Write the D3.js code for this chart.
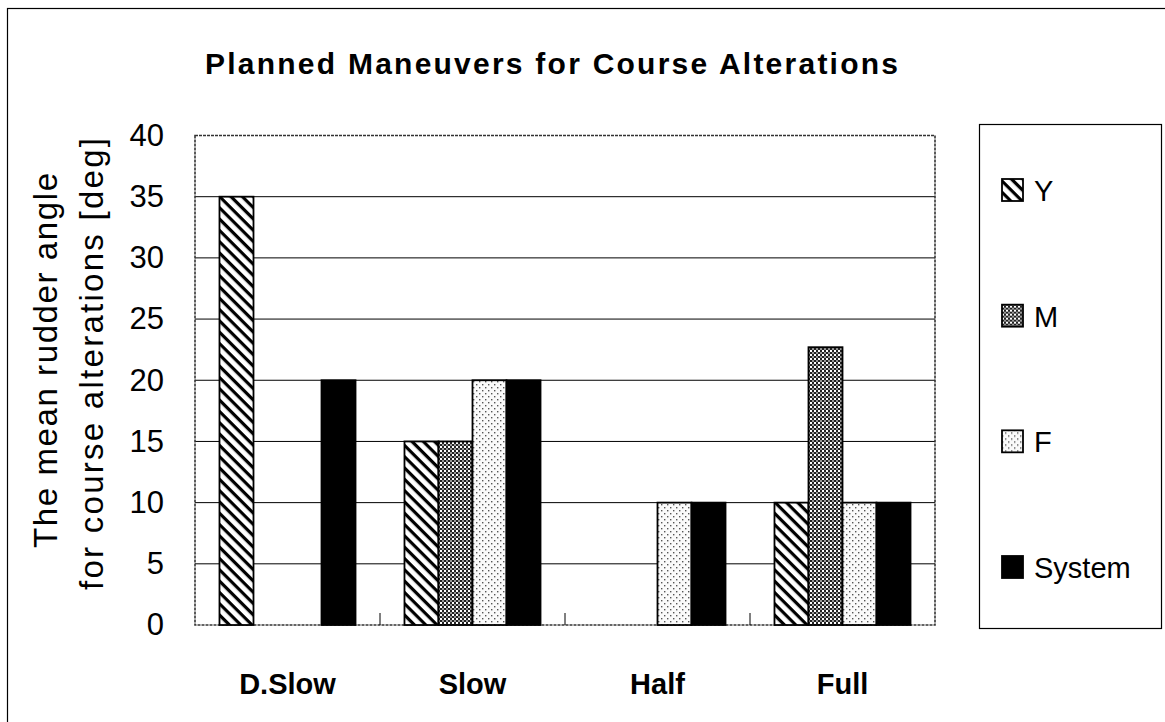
<!DOCTYPE html>
<html>
<head>
<meta charset="utf-8">
<script src="https://cdn.jsdelivr.net/npm/d3@7"></script>
<style>
  html, body { margin: 0; padding: 0; background: #fff; }
  svg { display: block; font-family: "Liberation Sans", Arial, sans-serif; }
</style>
</head>
<body>
<svg id="chart" width="1165" height="722"></svg>
<script>
// Chart data
const categories = ["D.Slow", "Slow", "Half", "Full"];
const seriesNames = ["Y", "M", "F", "System"];
const valuesY = [35, 15, 0, 10];
const valuesM = [0, 15, 0, 22.7];
const valuesF = [0, 20, 10, 10];
const valuesSystem = [20, 20, 10, 10];
const yTicks = [0, 5, 10, 15, 20, 25, 30, 35, 40];

const seriesValues = [valuesY, valuesM, valuesF, valuesSystem];

const svg = d3.select("#chart");
const W = 1165, H = 722;
const FONT = "Liberation Sans, Arial, sans-serif";

// Fill patterns
const defs = svg.append("defs");

const hatch = defs.append("pattern")
  .attr("id", "pat-Y").attr("patternUnits", "userSpaceOnUse")
  .attr("width", 8).attr("height", 8)
  .attr("patternTransform", "rotate(45)");
hatch.append("rect").attr("width", 8).attr("height", 8).attr("fill", "#fff");
hatch.append("rect").attr("x", 0).attr("y", 0).attr("width", 8).attr("height", 3.2).attr("fill", "#000");

const checker = defs.append("pattern")
  .attr("id", "pat-M").attr("patternUnits", "userSpaceOnUse")
  .attr("width", 4).attr("height", 4);
checker.append("rect").attr("width", 4).attr("height", 4).attr("fill", "#fff");
checker.append("rect").attr("x", 0).attr("y", 0).attr("width", 2).attr("height", 2).attr("fill", "#222");
checker.append("rect").attr("x", 2).attr("y", 2).attr("width", 2).attr("height", 2).attr("fill", "#222");
checker.append("rect").attr("x", 2).attr("y", 0).attr("width", 2).attr("height", 2).attr("fill", "#999");

const dots = defs.append("pattern")
  .attr("id", "pat-F").attr("patternUnits", "userSpaceOnUse")
  .attr("width", 6).attr("height", 6);
dots.append("rect").attr("width", 6).attr("height", 6).attr("fill", "#fafafa");
dots.append("rect").attr("x", 0).attr("y", 0).attr("width", 1.4).attr("height", 1.4).attr("fill", "#555");
dots.append("rect").attr("x", 3).attr("y", 3).attr("width", 1.4).attr("height", 1.4).attr("fill", "#555");

const fills = ["url(#pat-Y)", "url(#pat-M)", "url(#pat-F)", "#000"];

// Outer frame
svg.append("rect")
  .attr("x", 7.5).attr("y", 8.5).attr("width", W + 10).attr("height", H + 10)
  .attr("fill", "none").attr("stroke", "#000").attr("stroke-width", 1.2);

// Title
svg.append("text")
  .attr("x", 205).attr("y", 74)
  .attr("font-weight", "bold").attr("font-size", 30)
  .attr("font-family", FONT)
  .attr("textLength", 693).attr("lengthAdjust", "spacing")
  .text("Planned Maneuvers for Course Alterations");

// Plot area
const plot = { left: 195, top: 135.5, right: 935, bottom: 625 };

const x0 = d3.scaleBand().domain(categories)
  .range([plot.left, plot.right]).paddingInner(0).paddingOuter(0);
const x1 = d3.scaleBand().domain(seriesNames)
  .range([0, x0.bandwidth()]).paddingInner(0).paddingOuter(0.72);
const y = d3.scaleLinear().domain([0, 40]).range([plot.bottom, plot.top]);

// Gridlines
svg.append("g").selectAll("line")
  .data(yTicks.filter(t => t > 0 && t < 40))
  .join("line")
  .attr("x1", plot.left).attr("x2", plot.right)
  .attr("y1", d => y(d)).attr("y2", d => y(d))
  .attr("stroke", "#000").attr("stroke-width", 1);

// Plot border (dotted)
svg.append("rect")
  .attr("x", plot.left).attr("y", plot.top)
  .attr("width", plot.right - plot.left).attr("height", plot.bottom - plot.top)
  .attr("fill", "none").attr("stroke", "#333").attr("stroke-width", 1.6)
  .attr("stroke-dasharray", "3,1");

// Bars
const groups = svg.append("g").selectAll("g")
  .data(categories)
  .join("g")
  .attr("transform", d => `translate(${x0(d)},0)`);

groups.selectAll("rect")
  .data((c, ci) => seriesNames.map((s, si) => ({ s, si, v: seriesValues[si][ci] })).filter(d => d.v > 0))
  .join("rect")
  .attr("x", d => x1(d.s))
  .attr("y", d => y(d.v))
  .attr("width", x1.bandwidth())
  .attr("height", d => y(0) - y(d.v))
  .attr("fill", d => fills[d.si])
  .attr("stroke", "#000").attr("stroke-width", 1.8);

// Y axis
const yAxis = d3.axisLeft(y).tickValues(yTicks).tickSize(0).tickPadding(31);
const yg = svg.append("g").attr("transform", `translate(${plot.left},0)`).call(yAxis);
yg.select(".domain").remove();
yg.selectAll("text").attr("font-size", 31).attr("font-family", FONT).attr("fill", "#000");

// X axis: category labels and separators
const xAxis = d3.axisBottom(x0).tickSize(0).tickPadding(48);
const xg = svg.append("g").attr("transform", `translate(0,${plot.bottom})`).call(xAxis);
xg.select(".domain").remove();
xg.selectAll("text").attr("font-size", 29).attr("font-weight", "bold")
  .attr("font-family", FONT).attr("fill", "#000");

svg.append("g").selectAll("line")
  .data(categories.slice(1))
  .join("line")
  .attr("x1", d => x0(d)).attr("x2", d => x0(d))
  .attr("y1", plot.bottom - 12).attr("y2", plot.bottom)
  .attr("stroke", "#000").attr("stroke-width", 1);

// Y axis title (two lines)
const yTitleLines = [
  { text: "The mean rudder angle", x: 57, y: 548, len: 375 },
  { text: "for course alterations [deg]", x: 103, y: 590, len: 452 }
];
svg.append("g").selectAll("text").data(yTitleLines).join("text")
  .attr("transform", d => `translate(${d.x},${d.y}) rotate(-90)`)
  .attr("font-size", 33).attr("font-family", FONT)
  .attr("textLength", d => d.len).attr("lengthAdjust", "spacing")
  .text(d => d.text);

// Legend
const legend = { x: 979, y: 124, w: 182, h: 504 };
svg.append("rect")
  .attr("x", legend.x + 0.5).attr("y", legend.y + 0.5).attr("width", legend.w).attr("height", legend.h)
  .attr("fill", "#fff").attr("stroke", "#000").attr("stroke-width", 1.2);

const legendY = d3.scalePoint().domain(seriesNames).range([190, 567]);
const li = svg.append("g").selectAll("g").data(seriesNames).join("g")
  .attr("transform", d => `translate(1002,${legendY(d)})`);
li.append("rect")
  .attr("x", 0).attr("y", -11).attr("width", 21).attr("height", 22)
  .attr("fill", (d, i) => fills[i]).attr("stroke", "#000").attr("stroke-width", 1.8);
li.append("text")
  .attr("x", 32).attr("y", 11).attr("font-size", 29).attr("font-family", FONT)
  .text(d => d);
</script>
</body>
</html>
